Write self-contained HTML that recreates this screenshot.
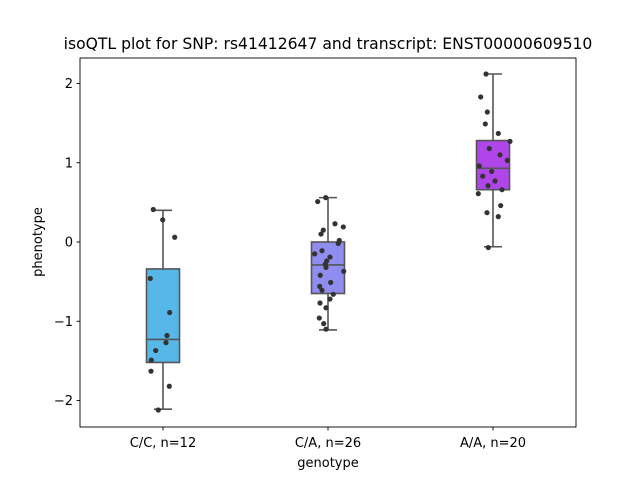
<!DOCTYPE html>
<html><head><meta charset="utf-8"><style>
body{margin:0;background:#fff;}
svg text{font-family:"DejaVu Sans","Liberation Sans",sans-serif;fill:#000;}
</style></head><body>
<svg width="640" height="480" xmlns="http://www.w3.org/2000/svg">
<rect width="640" height="480" fill="#fff"/>
<text x="328" y="49" font-size="15.6" text-anchor="middle">isoQTL plot for SNP: rs41412647 and transcript: ENST00000609510</text>
<g id="plot"></g>
<rect x="80" y="58" width="496" height="369" fill="none" stroke="#000" stroke-width="0.9"/>
<text x="328" y="467" font-size="13" text-anchor="middle">genotype</text>
<text transform="translate(42,242) rotate(-90)" font-size="13" text-anchor="middle">phenotype</text>
</svg>
<script>
const categories=["C/C, n=12","C/A, n=26","A/A, n=20"];
const boxColors=["#56b7e8","#8f8df0","#b046ea"];
const q1=[-1.52,-0.65,0.66];
const medians=[-1.23,-0.29,0.93];
const q3=[-0.34,0.0,1.28];
const whiskLo=[-2.11,-1.11,-0.06];
const whiskHi=[0.40,0.56,2.12];
const yTicks=[-2,-1,0,1,2];
const valsCC=[0.41,0.28,0.06,-0.46,-0.89,-1.18,-1.27,-1.37,-1.49,-1.63,-1.82,-2.12];
const jitCC=[-9.7,-0.3,11.7,-12.7,6.7,4,3,-7.3,-11.7,-12,6.3,-4.7];
const valsCA=[0.56,0.51,0.23,0.19,0.15,0.10,0.02,-0.02,-0.11,-0.15,-0.19,-0.24,-0.28,-0.32,-0.37,-0.42,-0.51,-0.56,-0.61,-0.66,-0.72,-0.77,-0.83,-0.96,-1.03,-1.10];
const jitCA=[-2.3,-10.3,7,15.3,-4.7,-7,11.3,10.3,-6,-13.3,2,-1.3,-2.7,-2,15.7,-7.7,2.7,-8.3,-6,5.3,2,-8,-2,-8.7,-4.3,-2];
const valsAA=[2.12,1.83,1.64,1.49,1.37,1.27,1.18,1.10,1.03,0.96,0.89,0.83,0.77,0.71,0.66,0.61,0.46,0.37,0.32,-0.07];
const jitAA=[-7,-12.3,-5.7,-7.7,5.3,17,-3.7,7,14.3,-13.7,-1.3,-10.3,2,-5,9,-14.7,7.7,-6,5.3,-4.7];
const points=[valsCC,valsCA,valsAA];
const jitters=[jitCC,jitCA,jitAA];

const NS="http://www.w3.org/2000/svg";
const g=document.getElementById("plot");
const yS=v=>242-v*79.25;
const xS=i=>163+i*165;
function mk(tag,attrs){const e=document.createElementNS(NS,tag);for(const k in attrs)e.setAttribute(k,attrs[k]);g.appendChild(e);return e;}
yTicks.forEach(t=>{
  const y=yS(t);
  const l=mk("line",{x1:76.5,x2:80,y1:y,y2:y,stroke:"#000","stroke-width":0.9});
  
  
  const tx=mk("text",{x:73,y:y+4.5,"font-size":"13","text-anchor":"end"});
  tx.textContent=(t<0?"\u2212"+(-t):String(t));
  
  
});
categories.forEach((c,i)=>{
  const x=xS(i);
  const l=mk("line",{x1:x,x2:x,y1:427,y2:430.5,stroke:"#000","stroke-width":0.9});
  
  
  const tx=mk("text",{x:x,y:447,"font-size":"13","text-anchor":"middle"});
  tx.textContent=c;
  
  
  const st={stroke:"#555","stroke-width":1.6};
  const w1=mk("line",Object.assign({x1:x,x2:x,y1:yS(whiskHi[i]),y2:yS(q3[i])},st));
  
  
  const w2=mk("line",Object.assign({x1:x,x2:x,y1:yS(q1[i]),y2:yS(whiskLo[i])},st));
  
  
  const c1=mk("line",Object.assign({x1:x-9,x2:x+9,y1:yS(whiskHi[i]),y2:yS(whiskHi[i])},st));
  
  
  const c2=mk("line",Object.assign({x1:x-9,x2:x+9,y1:yS(whiskLo[i]),y2:yS(whiskLo[i])},st));
  
  
  const b=mk("rect",Object.assign({x:x-16.5,y:yS(q3[i]),width:33,height:yS(q1[i])-yS(q3[i]),fill:boxColors[i]},st));
  
  
  const m=mk("line",Object.assign({x1:x-16.5,x2:x+16.5,y1:yS(medians[i]),y2:yS(medians[i])},st));
  
  
});
points.forEach((arr,i)=>{
  arr.forEach((v,j)=>{
    const p=mk("circle",{cx:xS(i)+jitters[i][j],cy:yS(v),r:2.6,fill:"#333"});
    
    
  });
});
</script>
</body></html>
